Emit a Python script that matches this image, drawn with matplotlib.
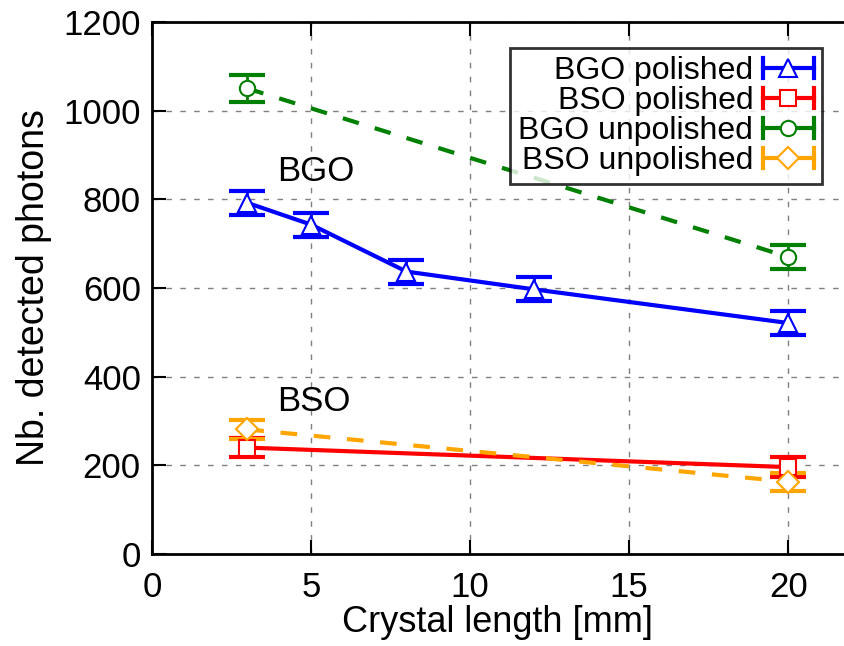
import matplotlib
matplotlib.use("Agg")
import matplotlib.pyplot as plt
from matplotlib.legend_handler import HandlerBase
from matplotlib.lines import Line2D

plt.rcParams["font.family"] = ["Liberation Sans", "DejaVu Sans"]

# data
bgo_pol_x = [3, 5, 8, 12, 20]
bgo_pol_y = [792, 743, 637, 597, 521]
bgo_pol_err = [27, 27, 27, 27, 27]

bso_pol_x = [3, 20]
bso_pol_y = [240, 196]
bso_pol_err = [22, 23]

bgo_unp_x = [3, 20]
bgo_unp_y = [1050, 670]
bgo_unp_err = [30, 27]

bso_unp_x = [3, 20]
bso_unp_y = [281, 163]
bso_unp_err = [22, 20]


class ErrHandler(HandlerBase):
    # gnuplot style key: horizontal bar with end caps, marker in middle
    def __init__(self, color, marker, ms):
        super().__init__()
        self.color = color
        self.marker = marker
        self.ms = ms

    def create_artists(self, legend, orig_handle, xdescent, ydescent,
                       width, height, fontsize, trans):
        y = height / 2 - ydescent
        x0, x1 = -xdescent, width - xdescent
        line = Line2D([x0, x1], [y, y], color=self.color, lw=3)
        cap_l = Line2D([x0, x0], [y - height * 0.45, y + height * 0.45], color=self.color, lw=3)
        cap_r = Line2D([x1, x1], [y - height * 0.45, y + height * 0.45], color=self.color, lw=3)
        mk = Line2D([(x0 + x1) / 2], [y], marker=self.marker, ms=self.ms,
                    mfc="white", mec=self.color, mew=1.5, ls="none")
        for a in (line, cap_l, cap_r, mk):
            a.set_transform(trans)
        return [line, cap_l, cap_r, mk]


fig = plt.figure(figsize=(8.44, 6.46), dpi=100)
ax = fig.add_axes([0.180, 0.1424, 0.82, 0.8236])

series = [
    (bgo_pol_x, bgo_pol_y, bgo_pol_err, "blue", "^", "-", 13, "BGO polished"),
    (bso_pol_x, bso_pol_y, bso_pol_err, "red", "s", "-", 11, "BSO polished"),
    (bgo_unp_x, bgo_unp_y, bgo_unp_err, "green", "o", "--", 11, "BGO unpolished"),
    (bso_unp_x, bso_unp_y, bso_unp_err, "orange", "D", "--", 11, "BSO unpolished"),
]

handles = []
handler_map = {}
for x, y, e, c, m, ls, ms, lab in series:
    ax.plot(x, y, color=c, ls=ls, lw=3, dashes=(4, 4) if ls == "--" else (None, None), zorder=3)
    ax.errorbar(x, y, yerr=e, fmt="none", ecolor=c, elinewidth=2,
                capsize=13, capthick=3, zorder=4)
    ax.plot(x, y, ls="none", marker=m, ms=ms, mfc="white", mec=c, mew=1.5, zorder=5)
    h = Line2D([], [], color=c, label=lab)
    handles.append(h)
    handler_map[h] = ErrHandler(c, m, ms)

ax.text(3.95, 862, "BGO", fontsize=25, va="center")
ax.text(3.95, 343, "BSO", fontsize=25, va="center")

ax.set_xlim(0, 21.75)
ax.set_ylim(0, 1200)
ax.set_xticks([0, 5, 10, 15, 20])
ax.set_yticks(range(0, 1201, 200))
ax.tick_params(direction="in", length=10, width=1.5, labelsize=25, pad=8,
               top=True, right=False)
ax.tick_params(axis="x", pad=12)
for s in ["left", "bottom", "top"]:
    ax.spines[s].set_linewidth(2)
ax.spines["right"].set_visible(False)
ax.grid(True, color="gray", ls=(0, (4, 6)), lw=1)
ax.set_axisbelow(True)

ax.set_xlabel("Crystal length [mm]", fontsize=26, labelpad=1)
ax.set_ylabel("Nb. detected photons", fontsize=27, labelpad=8)

leg = ax.legend(handles=handles, handler_map=handler_map, loc="upper right",
                bbox_to_anchor=(0.968, 0.951), markerfirst=False, fontsize=23,
                frameon=True, fancybox=False, edgecolor="black",
                handlelength=1.6, handletextpad=0.3, labelspacing=0.0,
                borderpad=0.25, borderaxespad=0)
leg.get_frame().set_linewidth(2)
for t in leg.get_texts():
    t.set_ha("right")
leg._legend_box.align = "right"

fig.savefig("out.png", dpi=100)
